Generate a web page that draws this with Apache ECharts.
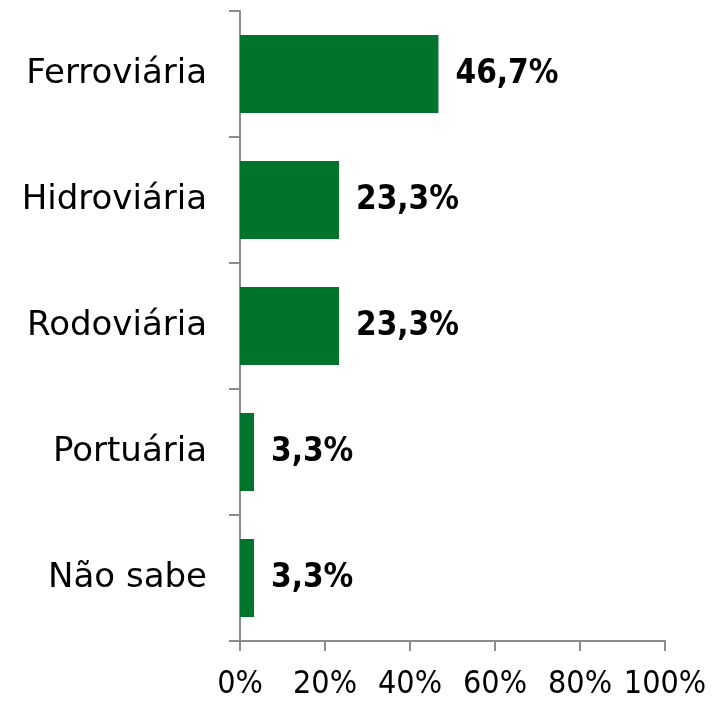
<!DOCTYPE html>
<html>
<head>
<meta charset="utf-8">
<script src="https://cdn.jsdelivr.net/npm/echarts@6/dist/echarts.min.js"></script>
<style>
  html, body { margin: 0; padding: 0; background: #fff; }
  #chart { width: 724px; height: 706px; }
</style>
</head>
<body>
<div id="chart"></div>
<script>
// categories listed bottom to top (echarts category y axis starts at the bottom)
var categories = ['Não sabe', 'Portuária', 'Rodoviária', 'Hidroviária', 'Ferroviária'];
var values = [3.3, 3.3, 23.3, 23.3, 46.7];
var tickLabels = ['0%', '20%', '40%', '60%', '80%', '100%'];

var chart = echarts.init(document.getElementById('chart'));
var option = {
    animation: false,
    grid: { left: 240, right: 59, top: 11, bottom: 65, containLabel: false },
    xAxis: {
        type: 'value',
        min: 0,
        max: 100,
        interval: 20,
        splitLine: { show: false },
        axisLine: { show: true, lineStyle: { color: '#8c8c8c', width: 2 } },
        axisTick: { show: true, length: 10, lineStyle: { color: '#8c8c8c', width: 2 } },
        axisLabel: {
            margin: 28,
            color: '#000',
            fontSize: 32,
            fontFamily: 'DejaVu Sans Condensed',
            formatter: function (v) { return tickLabels[Math.round(v / 20)]; }
        }
    },
    yAxis: {
        type: 'category',
        data: categories,
        axisLine: { show: true, lineStyle: { color: '#8c8c8c', width: 2 } },
        axisTick: { show: true, length: 11, lineStyle: { color: '#8c8c8c', width: 2 } },
        axisLabel: {
            margin: 33,
            color: '#000',
            fontSize: 34,
            fontFamily: 'DejaVu Sans'
        }
    },
    series: [{
        type: 'bar',
        data: values,
        barWidth: 78,
        itemStyle: { color: '#00742a' },
        label: {
            show: true,
            position: 'right',
            distance: 17,
            color: '#000',
            fontSize: 33,
            fontWeight: 'bold',
            fontFamily: 'DejaVu Sans Condensed',
            formatter: function (p) { return p.value.toFixed(1).replace('.', ',') + '%'; }
        }
    }]
};
chart.setOption(option);
</script>
</body>
</html>
